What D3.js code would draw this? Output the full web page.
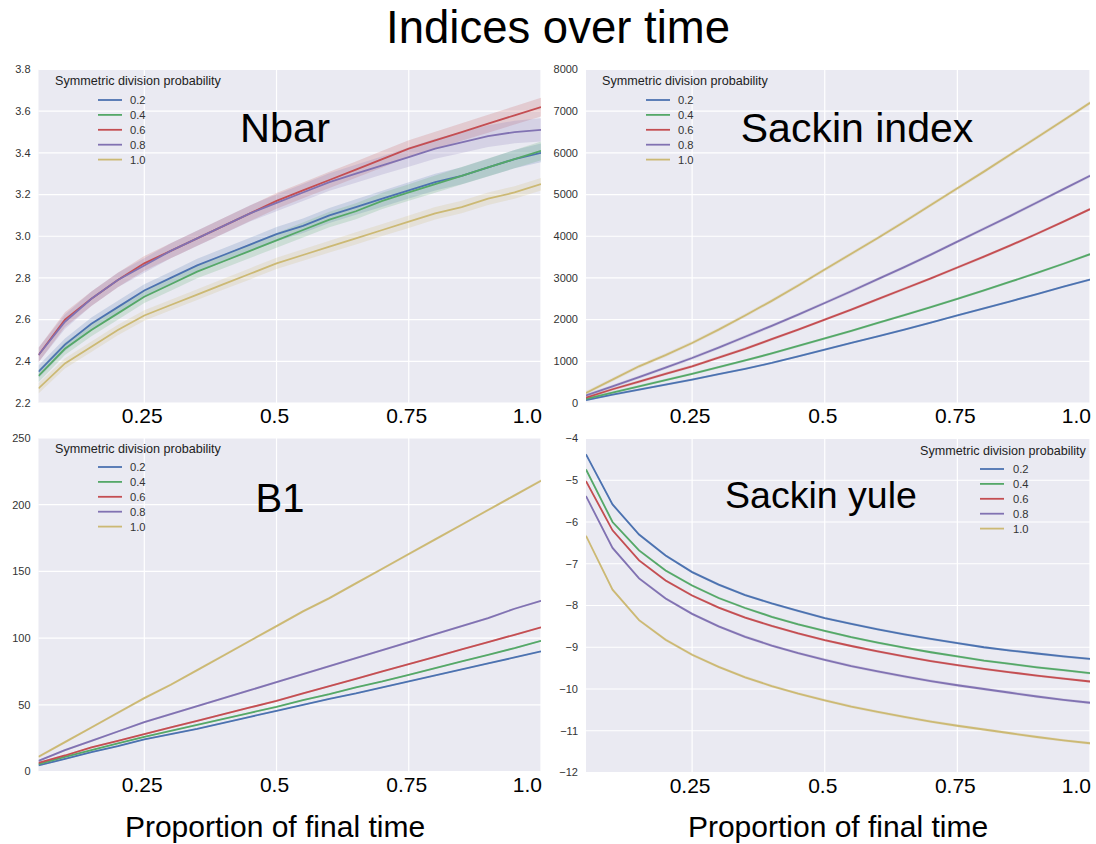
<!DOCTYPE html>
<html>
<head>
<meta charset="utf-8">
<script src="https://cdn.jsdelivr.net/npm/d3@7"></script>
<style>
  body { margin: 0; background: #fff; }
  svg { font-family: "Liberation Sans", Arial, Helvetica, sans-serif; }
</style>
</head>
<body>
<div id="chart"></div>
<script>
// proportion of final time
const times = [0.05, 0.1, 0.15, 0.2, 0.25, 0.3, 0.35, 0.4, 0.45, 0.5,
               0.55, 0.6, 0.65, 0.7, 0.75, 0.8, 0.85, 0.9, 0.95, 1.0];
const probLabels = ["0.2", "0.4", "0.6", "0.8", "1.0"];
const colors = ["#4C72B0", "#55A868", "#C44E52", "#8172B2", "#CCB974"];

const xTicks = [0.25, 0.5, 0.75, 1.0];
const xTickLabels = ["0.25", "0.5", "0.75", "1.0"];

// Nbar
const nbar02 = [2.35, 2.48, 2.58, 2.66, 2.74, 2.80, 2.86, 2.91, 2.96, 3.01, 3.05, 3.10, 3.14, 3.18, 3.22, 3.26, 3.29, 3.33, 3.37, 3.40];
const nbar04 = [2.33, 2.46, 2.55, 2.63, 2.71, 2.77, 2.83, 2.88, 2.93, 2.98, 3.03, 3.08, 3.12, 3.17, 3.21, 3.25, 3.29, 3.33, 3.37, 3.41];
const nbar06 = [2.43, 2.60, 2.70, 2.79, 2.87, 2.93, 2.99, 3.05, 3.11, 3.17, 3.22, 3.27, 3.32, 3.37, 3.42, 3.46, 3.50, 3.54, 3.58, 3.62];
const nbar08 = [2.43, 2.59, 2.70, 2.79, 2.86, 2.93, 2.99, 3.05, 3.11, 3.16, 3.21, 3.26, 3.30, 3.34, 3.38, 3.42, 3.45, 3.48, 3.50, 3.51];
const nbar10 = [2.27, 2.39, 2.47, 2.55, 2.62, 2.67, 2.72, 2.77, 2.82, 2.87, 2.91, 2.95, 2.99, 3.03, 3.07, 3.11, 3.14, 3.18, 3.21, 3.25];
// Nbar confidence half-widths
const nbarSpread02 = [0.03, 0.03, 0.03, 0.03, 0.03, 0.03, 0.032, 0.032, 0.033, 0.034, 0.035, 0.036, 0.037, 0.038, 0.039, 0.04, 0.041, 0.042, 0.044, 0.045];
const nbarSpread04 = [0.03, 0.03, 0.03, 0.03, 0.03, 0.031, 0.032, 0.033, 0.034, 0.035, 0.036, 0.037, 0.038, 0.039, 0.04, 0.041, 0.042, 0.043, 0.044, 0.045];
const nbarSpread06 = [0.035, 0.035, 0.035, 0.035, 0.035, 0.036, 0.036, 0.037, 0.037, 0.038, 0.038, 0.039, 0.039, 0.04, 0.04, 0.041, 0.042, 0.043, 0.044, 0.045];
const nbarSpread08 = [0.035, 0.035, 0.035, 0.035, 0.035, 0.036, 0.037, 0.038, 0.039, 0.04, 0.041, 0.042, 0.043, 0.044, 0.046, 0.048, 0.05, 0.052, 0.054, 0.056];
const nbarSpread10 = [0.025, 0.025, 0.025, 0.025, 0.025, 0.025, 0.026, 0.026, 0.027, 0.027, 0.028, 0.028, 0.029, 0.029, 0.03, 0.03, 0.03, 0.03, 0.03, 0.03];

// Sackin index
const sackin02 = [70, 200, 320, 440, 560, 690, 820, 960, 1120, 1280, 1440, 1600, 1760, 1930, 2100, 2270, 2440, 2610, 2790, 2960];
const sackin04 = [100, 250, 400, 550, 700, 860, 1020, 1190, 1370, 1550, 1730, 1920, 2110, 2300, 2500, 2700, 2910, 3120, 3340, 3570];
const sackin06 = [130, 330, 510, 700, 880, 1090, 1300, 1530, 1760, 2000, 2240, 2490, 2740, 2990, 3250, 3510, 3780, 4060, 4350, 4650];
const sackin08 = [180, 400, 620, 850, 1080, 1330, 1590, 1850, 2120, 2400, 2680, 2970, 3260, 3560, 3870, 4180, 4490, 4810, 5130, 5450];
const sackin10 = [240, 560, 880, 1150, 1440, 1760, 2100, 2450, 2820, 3200, 3580, 3960, 4350, 4750, 5150, 5550, 5960, 6370, 6780, 7200];
const sackinSpread = [25, 30, 35, 40, 45];

// B1
const b1_02 = [4.5, 9.5, 14.5, 19, 24, 28, 32, 36.5, 41, 45.5, 50, 54.5, 58.5, 63, 67.5, 72, 76.5, 81, 85.5, 90];
const b1_04 = [5.5, 11, 16, 21, 26, 30.5, 35, 39.5, 44, 48.5, 53.5, 58, 63, 67.5, 72.5, 77.5, 82.5, 87.5, 92.5, 98];
const b1_06 = [6.5, 12, 18, 23, 28, 33, 38, 43, 48, 53, 58.5, 64, 69.5, 75, 80.5, 86, 91.5, 97, 102.5, 108];
const b1_08 = [8, 16, 23, 30, 37, 43, 49, 55, 61, 67, 73, 79, 85, 91, 97, 103, 109, 115, 122, 128];
const b1_10 = [11, 22, 33, 44, 55, 65, 76, 87, 98, 109, 120, 130, 141, 152, 163, 174, 185, 196, 207, 218];
const b1Spread = [0.6, 0.6, 0.7, 0.8, 1.0];

// Sackin yule
const yule02 = [-4.38, -5.58, -6.3, -6.8, -7.2, -7.5, -7.75, -7.95, -8.13, -8.3, -8.44, -8.57, -8.69, -8.8, -8.9, -9.0, -9.08, -9.15, -9.22, -9.28];
const yule04 = [-4.74, -6.0, -6.68, -7.16, -7.52, -7.82, -8.06, -8.27, -8.45, -8.61, -8.76, -8.89, -9.01, -9.12, -9.22, -9.32, -9.4, -9.48, -9.55, -9.62];
const yule06 = [-5.02, -6.2, -6.92, -7.4, -7.76, -8.05, -8.29, -8.49, -8.67, -8.83, -8.97, -9.1, -9.22, -9.33, -9.43, -9.52, -9.6, -9.68, -9.75, -9.82];
const yule08 = [-5.38, -6.62, -7.35, -7.83, -8.2, -8.5, -8.75, -8.96, -9.14, -9.3, -9.45, -9.58, -9.7, -9.81, -9.91, -10.0, -10.09, -10.18, -10.26, -10.33];
const yule10 = [-6.33, -7.62, -8.35, -8.82, -9.18, -9.47, -9.72, -9.93, -10.11, -10.27, -10.42, -10.55, -10.67, -10.78, -10.88, -10.97, -11.06, -11.15, -11.23, -11.3];
const yuleSpread = [0.03, 0.03, 0.03, 0.035, 0.035];

const nbarTicks = [2.2, 2.4, 2.6, 2.8, 3.0, 3.2, 3.4, 3.6, 3.8];
const sackinTicks = [0, 1000, 2000, 3000, 4000, 5000, 6000, 7000, 8000];
const b1Ticks = [0, 50, 100, 150, 200, 250];
const yuleTicks = [-12, -11, -10, -9, -8, -7, -6, -5, -4];

const legendTitle = "Symmetric division probability";
const xLabel = "Proportion of final time";

const panels = [
  { name: "Nbar", x: 38.5, y: 69.5, w: 502.5, h: 333.5,
    series: [nbar02, nbar04, nbar06, nbar08, nbar10],
    spreads: [nbarSpread02, nbarSpread04, nbarSpread06, nbarSpread08, nbarSpread10],
    ticks: nbarTicks, fmt: d3.format(".1f"),
    title: { x: 285, y: 142, size: 41.5 },
    legend: { tx: 55, ty: 85, lx: 98, labx: 130, ry: 100 } },
  { name: "Sackin index", x: 586, y: 69.5, w: 504, h: 333.5,
    series: [sackin02, sackin04, sackin06, sackin08, sackin10],
    spreads: sackinSpread, ticks: sackinTicks, fmt: d3.format("d"),
    title: { x: 857, y: 142, size: 41 },
    legend: { tx: 602, ty: 85, lx: 646, labx: 678, ry: 100 } },
  { name: "B1", x: 38.5, y: 438, w: 502.5, h: 333.5,
    series: [b1_02, b1_04, b1_06, b1_08, b1_10],
    spreads: b1Spread, ticks: b1Ticks, fmt: d3.format("d"),
    title: { x: 280, y: 512, size: 40 },
    legend: { tx: 55, ty: 453, lx: 98, labx: 130, ry: 467 } },
  { name: "Sackin yule", x: 586, y: 438.5, w: 504, h: 334,
    series: [yule02, yule04, yule06, yule08, yule10],
    spreads: yuleSpread, ticks: yuleTicks, fmt: d3.format("d"),
    title: { x: 821, y: 508, size: 37.5 },
    legend: { tx: 920, ty: 455, lx: 980, labx: 1013, ry: 469 } }
];

const svg = d3.select("#chart")
  .append("svg")
  .attr("width", 1096)
  .attr("height", 844);

svg.append("text")
  .attr("x", 558)
  .attr("y", 43)
  .attr("text-anchor", "middle")
  .attr("font-size", 45.5)
  .attr("fill", "#000")
  .text("Indices over time");

panels.forEach((p, pi) => {
  const g = svg.append("g").attr("transform", `translate(${p.x},${p.y})`);

  const x = d3.scaleLinear().domain([0.05, 1.0]).range([0, p.w]);
  const y = d3.scaleLinear().domain(d3.extent(p.ticks)).range([p.h, 0]);

  g.append("rect")
    .attr("width", p.w)
    .attr("height", p.h)
    .attr("fill", "#EAEAF2");

  // grid
  g.selectAll(".hgrid")
    .data(p.ticks)
    .enter()
    .append("line")
    .attr("x1", 0).attr("x2", p.w)
    .attr("y1", d => y(d)).attr("y2", d => y(d))
    .attr("stroke", "#fff")
    .attr("stroke-width", 1.2);

  g.selectAll(".vgrid")
    .data(xTicks)
    .enter()
    .append("line")
    .attr("x1", d => x(d)).attr("x2", d => x(d))
    .attr("y1", 0).attr("y2", p.h)
    .attr("stroke", "#fff")
    .attr("stroke-width", 1.2);

  // y tick labels
  g.selectAll(".ylab")
    .data(p.ticks)
    .enter()
    .append("text")
    .attr("x", -8)
    .attr("y", d => y(d))
    .attr("dy", "0.35em")
    .attr("text-anchor", "end")
    .attr("font-size", 11)
    .attr("fill", "#333")
    .text(d => p.fmt(d));

  // x tick labels
  g.selectAll(".xlab")
    .data(xTicks)
    .enter()
    .append("text")
    .attr("x", (d, i) => i === xTicks.length - 1 ? x(d) + 1 : x(d) - 2)
    .attr("y", p.h + 20)
    .attr("text-anchor", (d, i) => i === xTicks.length - 1 ? "end" : "middle")
    .attr("font-size", 21)
    .attr("fill", "#000")
    .text((d, i) => xTickLabels[i]);

  const clipId = "clip" + pi;
  g.append("clipPath").attr("id", clipId)
    .append("rect").attr("width", p.w).attr("height", p.h);

  const plot = g.append("g").attr("clip-path", `url(#${clipId})`);

  p.series.forEach((vals, si) => {
    const sp = p.spreads[si];
    const band = times.map((t, i) => ({
      t: t,
      lo: vals[i] - (Array.isArray(sp) ? sp[i] : sp),
      hi: vals[i] + (Array.isArray(sp) ? sp[i] : sp)
    }));
    plot.append("path")
      .datum(band)
      .attr("fill", colors[si])
      .attr("fill-opacity", 0.2)
      .attr("d", d3.area()
        .x(d => x(d.t))
        .y0(d => y(d.lo))
        .y1(d => y(d.hi)));
  });

  p.series.forEach((vals, si) => {
    plot.append("path")
      .datum(times.map((t, i) => [t, vals[i]]))
      .attr("fill", "none")
      .attr("stroke", colors[si])
      .attr("stroke-width", 1.8)
      .attr("d", d3.line()
        .x(d => x(d[0]))
        .y(d => y(d[1])));
  });

  // panel title
  svg.append("text")
    .attr("x", p.title.x)
    .attr("y", p.title.y)
    .attr("text-anchor", "middle")
    .attr("font-size", p.title.size)
    .attr("fill", "#000")
    .text(p.name);

  // legend
  const lg = svg.append("g");
  lg.append("text")
    .attr("x", p.legend.tx)
    .attr("y", p.legend.ty)
    .attr("font-size", 12.6)
    .attr("fill", "#222")
    .text(legendTitle);

  probLabels.forEach((lab, i) => {
    const ry = p.legend.ry + i * 14.9;
    lg.append("line")
      .attr("x1", p.legend.lx).attr("x2", p.legend.lx + 24)
      .attr("y1", ry).attr("y2", ry)
      .attr("stroke", colors[i])
      .attr("stroke-width", 1.8);
    lg.append("text")
      .attr("x", p.legend.labx)
      .attr("y", ry)
      .attr("dy", "0.35em")
      .attr("font-size", 11.2)
      .attr("fill", "#333")
      .text(lab);
  });
});

// x axis titles
[275, 838].forEach(cx => {
  svg.append("text")
    .attr("x", cx)
    .attr("y", 837)
    .attr("text-anchor", "middle")
    .attr("font-size", 30)
    .attr("fill", "#000")
    .text(xLabel);
});
</script>
</body>
</html>
